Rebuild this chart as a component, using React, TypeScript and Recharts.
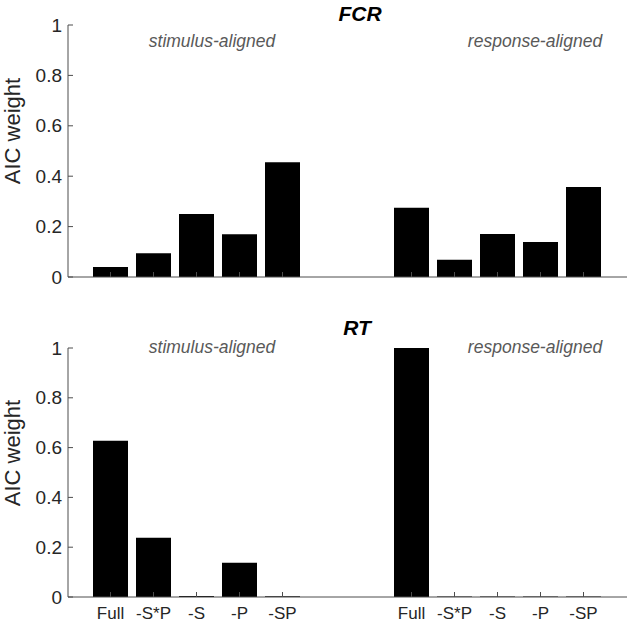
import { BarChart, Bar, XAxis, YAxis } from 'recharts'

const MODELS = ['Full', '-S*P', '-S', '-P', '-SP']
const FCR_STIM = [0.04, 0.094, 0.25, 0.17, 0.455]
const FCR_RESP = [0.275, 0.068, 0.171, 0.139, 0.357]
const RT_STIM = [0.628, 0.238, 0.004, 0.138, 0.003]
const RT_RESP = [1.0, 0.002, 0.002, 0.002, 0.002]
const Y_TICKS = [0, 0.2, 0.4, 0.6, 0.8, 1]

const FONT = '"Liberation Sans", Arial, sans-serif'
const AXIS = '#4d4d4d'
const TEXT = '#262626'

type Row = { slot: string; label: string; value: number | null }

// stimulus group, two empty slots, response group
function buildRows(stim: number[], resp: number[]): Row[] {
  const rows: Row[] = MODELS.map((m, i) => ({ slot: `s${i}`, label: m, value: stim[i] }))
  rows.push({ slot: 'g0', label: '', value: null }, { slot: 'g1', label: '', value: null })
  MODELS.forEach((m, i) => rows.push({ slot: `r${i}`, label: m, value: resp[i] }))
  return rows
}

const fcrData = buildRows(FCR_STIM, FCR_RESP)
const rtData = buildRows(RT_STIM, RT_RESP)

function fmtY(v: number) {
  if (v === 0) return '0'
  if (v === 1) return '1'
  return v.toFixed(1)
}

function YTick(props: any) {
  const { x, y, payload } = props
  return (
    <g>
      <line x1={x} x2={x + 5} y1={y} y2={y} stroke={AXIS} />
      <text x={x - 6} y={y} dy="0.35em" textAnchor="end" fontSize={19} fill={TEXT} fontFamily={FONT}>
        {fmtY(payload.value)}
      </text>
    </g>
  )
}

function makeXTick(rows: Row[], showLabels: boolean) {
  return function XTick(props: any) {
    const { x, y, index } = props
    const label = rows[index]?.label
    if (!label) return <g />
    return (
      <g>
        <line x1={x} x2={x} y1={y} y2={y - 5} stroke={AXIS} />
        {showLabels && (
          <text x={x} y={y + 16} dy="0.35em" textAnchor="middle" fontSize={17} fill={TEXT} fontFamily={FONT}>
            {label}
          </text>
        )}
      </g>
    )
  }
}

function Panel({ data, height, top, bottom, showLabels }: { data: Row[]; height: number; top: number; bottom: number; showLabels: boolean }) {
  return (
    <BarChart width={628} height={height} data={data} margin={{ top, right: 1, bottom: 0, left: 0 }} barSize={35}>
      <XAxis
        dataKey="slot"
        height={bottom}
        tickSize={0}
        tickMargin={0}
        padding={{ left: 21, right: 22 }}
        interval={0}
        axisLine={{ stroke: AXIS }}
        tick={makeXTick(data, showLabels)}
      />
      <YAxis
        width={68}
        domain={[0, 1]}
        ticks={Y_TICKS}
        tickSize={0}
        tickMargin={0}
        axisLine={{ stroke: AXIS }}
        tick={YTick}
      />
      <Bar dataKey="value" fill="#000" isAnimationActive={false} />
    </BarChart>
  )
}

const label = (text: string, x: number, y: number, style: React.CSSProperties) => (
  <div
    style={{
      position: 'absolute',
      left: x,
      top: y,
      transform: 'translate(-50%, -50%)',
      whiteSpace: 'nowrap',
      fontFamily: FONT,
      lineHeight: 1,
      ...style,
    }}
  >
    {text}
  </div>
)

const sub = { fontSize: 17.5, fontStyle: 'italic', color: '#595959' } as const
const ttl = { fontSize: 21, fontStyle: 'italic', fontWeight: 700, color: '#000' } as const
const ylab = { fontSize: 22, color: TEXT, transform: 'translate(-50%, -50%) rotate(-90deg)' } as const

export default function App() {
  return (
    <div style={{ position: 'absolute', left: 0, top: 0, width: 628, height: 623, background: '#fff', overflow: 'hidden' }}>
      <div style={{ position: 'absolute', left: 0, top: 0 }}>
        <Panel data={fcrData} height={300} top={25} bottom={23} showLabels={false} />
      </div>
      <div style={{ position: 'absolute', left: 0, top: 300 }}>
        <Panel data={rtData} height={323} top={48} bottom={26} showLabels={true} />
      </div>
      {label('FCR', 360, 13, ttl)}
      {label('RT', 357, 327, ttl)}
      {label('stimulus-aligned', 212, 42, sub)}
      {label('response-aligned', 535, 42, sub)}
      {label('stimulus-aligned', 212, 348, sub)}
      {label('response-aligned', 535, 348, sub)}
      {label('AIC weight', 13, 131, ylab)}
      {label('AIC weight', 13, 453, ylab)}
    </div>
  )
}
